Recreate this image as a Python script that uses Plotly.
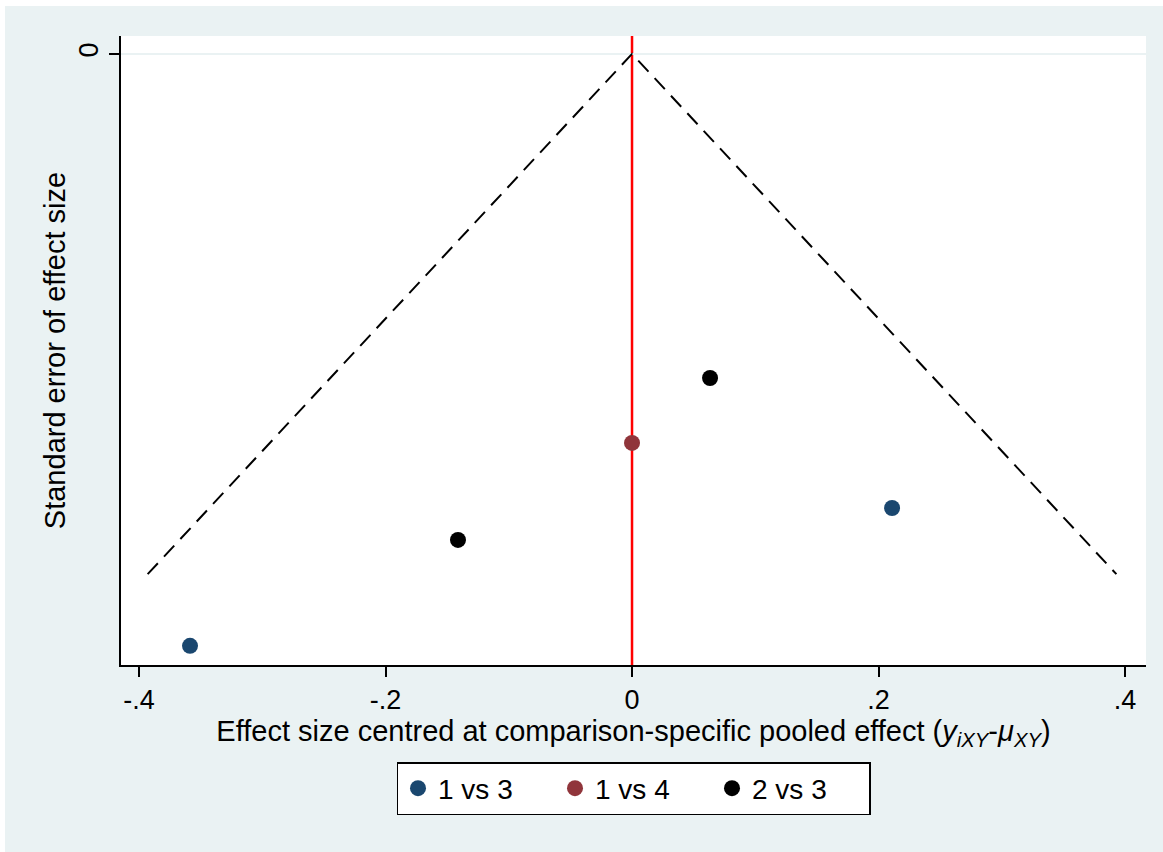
import plotly.graph_objects as go

# Data
groups = ["1 vs 3", "1 vs 4", "2 vs 3"]
x_13 = [-0.3586, 0.211]
se_13 = [0.2281, 0.175]
x_14 = [0.0]
se_14 = [0.1499]
x_23 = [0.0633, -0.1412]
se_23 = [0.1249, 0.1873]
funnel_se_max = 0.2005
z = 1.96
x_ticks = [-0.4, -0.2, 0, 0.2, 0.4]
x_ticklabels = ["-.4", "-.2", "0", ".2", ".4"]
y_ticks = [0]
y_ticklabels = ["0"]

colors = {"1 vs 3": "#1a476f", "1 vs 4": "#90353b", "2 vs 3": "#000000"}
BG = "#eaf2f3"
FONT = "Liberation Sans, Arial, sans-serif"

fig = go.Figure()

# Funnel (pseudo 95% CI lines)
fig.add_trace(go.Scatter(
    x=[-z * funnel_se_max, 0, z * funnel_se_max],
    y=[funnel_se_max, 0, funnel_se_max],
    mode="lines", line=dict(color="black", width=2, dash="15px,9px"),
    showlegend=False, hoverinfo="skip"))

# Vertical red line at 0
fig.add_vline(x=0, line=dict(color="#ff0000", width=2.5), layer="below")

for name, xs, ys in [("1 vs 3", x_13, se_13), ("1 vs 4", x_14, se_14), ("2 vs 3", x_23, se_23)]:
    fig.add_trace(go.Scatter(x=xs, y=ys, mode="markers", name=name,
                             marker=dict(color=colors[name], size=16, line=dict(width=0))))

W, H = 1163, 852
L, R, T, B = 121, 17, 36, 187
pw, ph = W - L - R, H - T - B

def px2x(px):
    return (px - L) / pw

def py2y(py):
    return (H - B - py) / ph

# white edge strips (left and top) like the reference
fig.add_shape(type="rect", xref="paper", yref="paper", x0=px2x(-2), x1=px2x(5), y0=py2y(H + 2), y1=py2y(-2),
              fillcolor="white", line=dict(width=0), layer="below")
fig.add_shape(type="rect", xref="paper", yref="paper", x0=px2x(-2), x1=px2x(W + 2), y0=py2y(6), y1=py2y(-2),
              fillcolor="white", line=dict(width=0), layer="below")

fig.update_layout(
    width=W, height=H,
    margin=dict(l=L, r=R, t=T, b=B, autoexpand=False),
    paper_bgcolor=BG, plot_bgcolor="white",
    font=dict(family=FONT, size=28, color="black"),
    xaxis=dict(range=[-0.4146, 0.417], tickvals=x_ticks, ticktext=x_ticklabels,
               showgrid=False, zeroline=False, showline=True, linecolor="black", linewidth=1.5,
               ticks="outside", ticklen=10, tickwidth=1.5, tickcolor="black",
               tickfont=dict(size=27),
               title=dict(text="Effect size centred at comparison-specific pooled effect (<i>y</i><sub><i>iXY</i></sub>-<i>μ</i><sub><i>XY</i></sub>)",
                          font=dict(size=29), standoff=2)),
    yaxis=dict(range=[0.2355, -0.0069], tickvals=y_ticks, ticktext=y_ticklabels,
               showgrid=True, gridcolor=BG, gridwidth=2, zeroline=False,
               showline=True, linecolor="black", linewidth=1.5,
               ticks="outside", ticklen=10, tickwidth=1.5, tickcolor="black",
               tickangle=-90, tickfont=dict(size=27),
               title=dict(text="Standard error of effect size", font=dict(size=29), standoff=0)),
    legend=dict(orientation="h", x=px2x(633.5), xanchor="center", y=py2y(762), yanchor="top",
                bgcolor="white", bordercolor="black", borderwidth=1.5,
                font=dict(size=28), entrywidth=112, entrywidthmode="pixels",
                itemsizing="trace"),
    showlegend=True,
)

fig.write_html("out.html", config={"displayModeBar": False})

# remove default page margin so the figure sits at the window origin
with open("out.html", "r", encoding="utf-8") as f:
    html = f.read()
html = html.replace("<head>", "<head><style>html,body{margin:0;padding:0;overflow:hidden;}</style>", 1)
with open("out.html", "w", encoding="utf-8") as f:
    f.write(html)
